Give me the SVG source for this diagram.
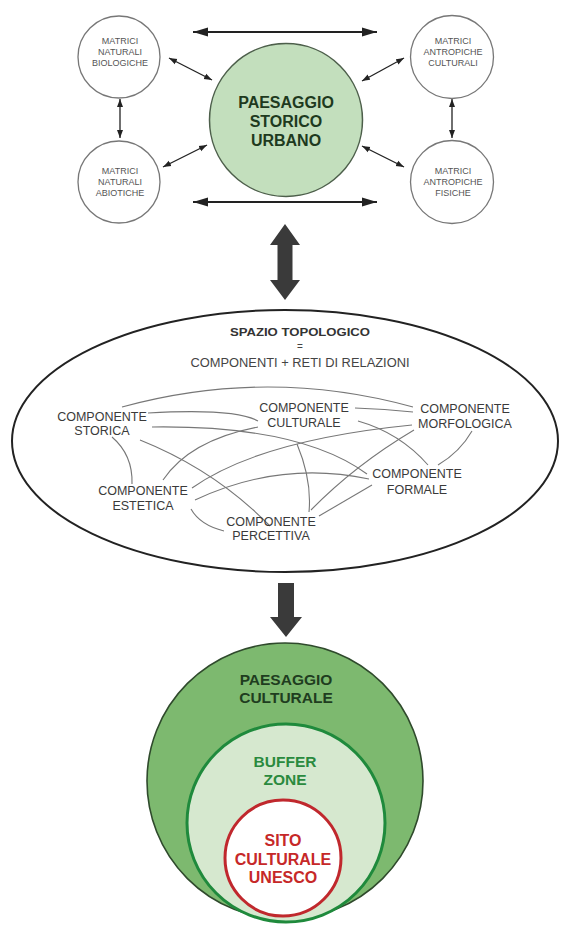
<svg xmlns="http://www.w3.org/2000/svg" width="562" height="926" viewBox="0 0 562 926">
<style>
text{font-family:"Liberation Sans",Arial,sans-serif;text-anchor:middle}
.m{font-size:9px;fill:#555}
.c{font-size:12.5px;fill:#3a3a3a}
.small{fill:#fff;stroke:#777;stroke-width:1.3}
.rel{fill:none;stroke:#777;stroke-width:1.1}
.big{stroke:#222;stroke-width:2;fill:none}
.thin{stroke:#222;stroke-width:1.3;fill:none}
.b{font-weight:bold}
</style>
<defs>
<marker id="hb" markerUnits="userSpaceOnUse" markerWidth="16" markerHeight="10" refX="15" refY="5" orient="auto-start-reverse"><path d="M0,0.5 L15,5 L0,9.5 z" fill="#222"/></marker>
<marker id="hs" markerUnits="userSpaceOnUse" markerWidth="9" markerHeight="7" refX="8" refY="3.5" orient="auto-start-reverse"><path d="M0,0.5 L8,3.5 L0,6.5 z" fill="#222"/></marker>
</defs>
<rect width="562" height="926" fill="#fff"/>

<g id="connectors">
<line class="big" x1="193" y1="32" x2="377" y2="32" marker-start="url(#hb)" marker-end="url(#hb)"/>
<line class="big" x1="193" y1="202" x2="377" y2="202" marker-start="url(#hb)" marker-end="url(#hb)"/>
<line class="thin" x1="169" y1="58" x2="212" y2="80" marker-start="url(#hs)" marker-end="url(#hs)"/>
<line class="thin" x1="163" y1="167" x2="207" y2="145" marker-start="url(#hs)" marker-end="url(#hs)"/>
<line class="thin" x1="362" y1="81" x2="404" y2="58" marker-start="url(#hs)" marker-end="url(#hs)"/>
<line class="thin" x1="362" y1="146" x2="404" y2="167" marker-start="url(#hs)" marker-end="url(#hs)"/>
<line class="thin" x1="120" y1="99" x2="120" y2="138" marker-start="url(#hs)" marker-end="url(#hs)"/>
<line class="thin" x1="452" y1="99" x2="452" y2="138" marker-start="url(#hs)" marker-end="url(#hs)"/>
<polygon points="285,224 300,245 292.5,245 292.5,280 300,280 285,300 270,280 277.5,280 277.5,245 270,245" fill="#3a3a3a"/>
<polygon points="278,583 294,583 294,617 302,617 286,637 270,617 278,617" fill="#3a3a3a"/>
</g>

<g id="psu">
<circle cx="286" cy="120" r="76.5" fill="#c3dfbd" stroke="#4d5f4b" stroke-width="1.5"/>
<text class="b" x="286" y="108" font-size="16" fill="#1e3a1e">PAESAGGIO</text>
<text class="b" x="286" y="127" font-size="16" fill="#1e3a1e">STORICO</text>
<text class="b" x="286" y="146" font-size="16" fill="#1e3a1e">URBANO</text>
</g>
<g id="mnb">
<circle class="small" cx="119" cy="57" r="41"/>
<text class="m" x="120" y="44">MATRICI</text>
<text class="m" x="120" y="55">NATURALI</text>
<text class="m" x="120" y="66">BIOLOGICHE</text>
</g>
<g id="mna">
<circle class="small" cx="119" cy="182" r="41"/>
<text class="m" x="120" y="174">MATRICI</text>
<text class="m" x="120" y="185">NATURALI</text>
<text class="m" x="120" y="196">ABIOTICHE</text>
</g>
<g id="mac">
<circle class="small" cx="452" cy="57" r="41.5"/>
<text class="m" x="453" y="44">MATRICI</text>
<text class="m" x="453" y="55">ANTROPICHE</text>
<text class="m" x="453" y="66">CULTURALI</text>
</g>
<g id="maf">
<circle class="small" cx="452" cy="182" r="41.5"/>
<text class="m" x="453" y="174">MATRICI</text>
<text class="m" x="453" y="185">ANTROPICHE</text>
<text class="m" x="453" y="196">FISICHE</text>
</g>

<g id="spazio">
<ellipse cx="285" cy="441" rx="273" ry="131" class="big"/>
<text class="b" x="300" y="336" font-size="11" fill="#333" textLength="140" lengthAdjust="spacingAndGlyphs">SPAZIO TOPOLOGICO</text>
<text x="300" y="350" font-size="10" fill="#444">=</text>
<text x="300" y="367" font-size="12.5" fill="#444" textLength="219" lengthAdjust="spacingAndGlyphs">COMPONENTI + RETI DI RELAZIONI</text>
</g>

<g id="relations">
<path class="rel" d="M122 407 Q268 367 413 407"/>
<path class="rel" d="M148 413 Q235 408 258 421"/>
<path class="rel" d="M152 427 Q300 425 367 474"/>
<path class="rel" d="M140 440 Q215 470 270 526"/>
<path class="rel" d="M112 437 Q133 455 132 484"/>
<path class="rel" d="M355 408 Q385 409 413 412"/>
<path class="rel" d="M358 421 Q400 433 428 465"/>
<path class="rel" d="M258 427 Q190 440 163 480"/>
<path class="rel" d="M297 444 Q312 480 309 512"/>
<path class="rel" d="M192 488 Q260 440 412 425"/>
<path class="rel" d="M414 430 Q355 465 311 510"/>
<path class="rel" d="M472 431 Q460 452 438 465"/>
<path class="rel" d="M195 500 Q280 460 369 479"/>
<path class="rel" d="M191 509 Q200 525 224 531"/>
<path class="rel" d="M319 516 L372 485"/>
</g>

<g id="storica"><text class="c" x="102" y="421">COMPONENTE</text><text class="c" x="102" y="435">STORICA</text></g>
<g id="culturale"><text class="c" x="304" y="412">COMPONENTE</text><text class="c" x="304" y="427">CULTURALE</text></g>
<g id="morfologica"><text class="c" x="465" y="413">COMPONENTE</text><text class="c" x="465" y="428">MORFOLOGICA</text></g>
<g id="estetica"><text class="c" x="143" y="495">COMPONENTE</text><text class="c" x="143" y="510">ESTETICA</text></g>
<g id="percettiva"><text class="c" x="271" y="526">COMPONENTE</text><text class="c" x="271" y="540">PERCETTIVA</text></g>
<g id="formale"><text class="c" x="417" y="478">COMPONENTE</text><text class="c" x="417" y="494">FORMALE</text></g>

<g id="paesaggio-culturale">
<circle cx="285" cy="781" r="138" fill="#7db96f" stroke="#2f4a2c" stroke-width="1.6"/>
<text class="b" x="286" y="685" font-size="15.5" fill="#1f3d1f">PAESAGGIO</text>
<text class="b" x="286" y="703" font-size="15.5" fill="#1f3d1f">CULTURALE</text>
</g>
<g id="buffer-zone">
<circle cx="286" cy="823" r="99" fill="#d6e8cf" stroke="#1f8a3c" stroke-width="3"/>
<text class="b" x="285" y="767" font-size="15.5" fill="#2a8a3e">BUFFER</text>
<text class="b" x="285" y="785" font-size="15.5" fill="#2a8a3e">ZONE</text>
</g>
<g id="sito-unesco">
<circle cx="283" cy="858" r="58" fill="#fff" stroke="#c0282d" stroke-width="3"/>
<text class="b" x="283" y="846" font-size="16" fill="#c62828">SITO</text>
<text class="b" x="283" y="865" font-size="16" fill="#c62828">CULTURALE</text>
<text class="b" x="283" y="883" font-size="16" fill="#c62828">UNESCO</text>
</g>
</svg>
